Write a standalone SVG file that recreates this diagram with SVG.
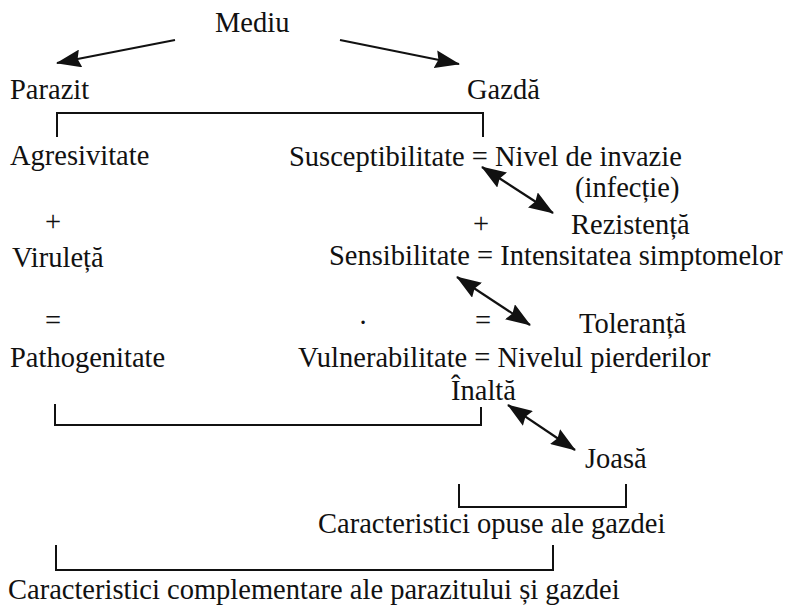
<svg xmlns="http://www.w3.org/2000/svg" width="791" height="606" viewBox="0 0 791 606">
<style>
text{font-family:"Liberation Serif","Times New Roman",serif;font-size:28.5px;fill:#111}
.c{text-anchor:middle}
.ln{stroke:#111;stroke-width:2;fill:none}
.ar{stroke:#111;stroke-width:2.2;fill:none}
</style>
<defs>
<marker id="ah" viewBox="0 0 25 18" refX="24" refY="9" markerWidth="25" markerHeight="18" markerUnits="userSpaceOnUse" orient="auto-start-reverse">
<path d="M0,0 L25,9 L0,18 L3,9 z" fill="#111"/>
</marker>
</defs>
<rect width="791" height="606" fill="#fff"/>
<g id="mediu"><text x="215" y="32">Mediu</text></g>
<g id="parazit"><text x="10" y="99">Parazit</text></g>
<g id="gazda"><text x="467" y="99">Gazdă</text></g>
<g id="agresivitate"><text x="10" y="165">Agresivitate</text></g>
<g id="susceptibilitate"><text x="289" y="166">Susceptibilitate = Nivel de invazie</text><text x="575" y="197">(infecție)</text></g>
<g id="plus-left"><text class="c" x="53" y="231">+</text></g>
<g id="plus-right"><text class="c" x="481" y="233">+</text></g>
<g id="rezistenta"><text x="571" y="234">Rezistență</text></g>
<g id="virulenta"><text x="12" y="267">Viruleță</text></g>
<g id="sensibilitate"><text x="329" y="265">Sensibilitate = Intensitatea simptomelor</text></g>
<g id="eq-left"><text class="c" x="53" y="330">=</text></g>
<g id="dot"><text class="c" x="363" y="324">.</text></g>
<g id="eq-right"><text class="c" x="483" y="330">=</text></g>
<g id="toleranta"><text x="579" y="333">Toleranță</text></g>
<g id="pathogenitate"><text x="10" y="367">Pathogenitate</text></g>
<g id="vulnerabilitate"><text x="298" y="367">Vulnerabilitate = Nivelul pierderilor</text></g>
<g id="inalta"><text x="451" y="400">Înaltă</text></g>
<g id="joasa"><text x="585" y="468">Joasă</text></g>
<g id="opuse"><text x="318" y="533">Caracteristici opuse ale gazdei</text></g>
<g id="complementare"><text x="8" y="599">Caracteristici complementare ale parazitului și gazdei</text></g>
<g id="connectors">
<line class="ar" x1="175" y1="40" x2="57" y2="63" marker-end="url(#ah)"/>
<line class="ar" x1="340" y1="40" x2="459" y2="64" marker-end="url(#ah)"/>
<line class="ar" x1="482" y1="167" x2="553" y2="213" marker-start="url(#ah)" marker-end="url(#ah)"/>
<line class="ar" x1="457" y1="277" x2="530" y2="325" marker-start="url(#ah)" marker-end="url(#ah)"/>
<line class="ar" x1="508" y1="405" x2="575" y2="450" marker-start="url(#ah)" marker-end="url(#ah)"/>
<path class="ln" d="M57,137 V113 H483 V137"/>
<path class="ln" d="M55,404 V425 H481 V407"/>
<path class="ln" d="M459,484 V507 H626 V484"/>
<path class="ln" d="M56,545 V570 H553 V545"/>
</g>
</svg>
